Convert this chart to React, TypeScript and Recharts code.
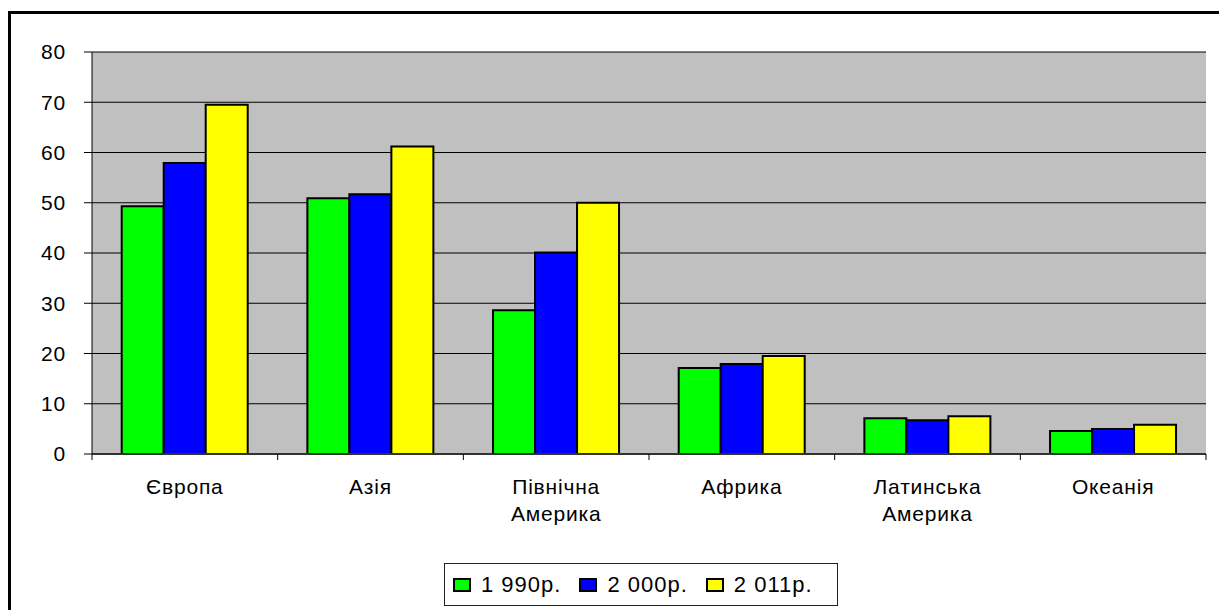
import { BarChart, Bar, XAxis, YAxis, CartesianGrid, Legend } from 'recharts'

const categories = ['Європа', 'Азія', 'Північна Америка', 'Африка', 'Латинська Америка', 'Океанія']
const values1990 = [49.3, 50.9, 28.6, 17.1, 7.1, 4.6]
const values2000 = [57.9, 51.7, 40.1, 17.9, 6.7, 5.0]
const values2011 = [69.5, 61.2, 50.0, 19.5, 7.5, 5.8]
const yTicks = [0, 10, 20, 30, 40, 50, 60, 70, 80]

const series = [
    { key: 'y1990', name: '1 990р.', color: '#00FF00' },
    { key: 'y2000', name: '2 000р.', color: '#0000FF' },
    { key: 'y2011', name: '2 011р.', color: '#FFFF00' }
]

const data = categories.map((name, i) => ({
    name,
    y1990: values1990[i],
    y2000: values2000[i],
    y2011: values2011[i]
}))

const FONT = '"Liberation Sans", Arial, sans-serif'
const W = 1219
const H = 610
const MARGIN = { top: 52, right: 13, bottom: 96, left: 32 }
const Y_AXIS_W = 60
// half of one category band, used to put x tick marks on the boundaries
const HALF_BAND = (W - MARGIN.left - Y_AXIS_W - MARGIN.right) / categories.length / 2

function CategoryTick(props: any) {
    const { x, y, payload, index } = props
    const lines = String(payload.value).split(' ')
    return (
        <g>
            <line x1={x - HALF_BAND} x2={x - HALF_BAND} y1={y} y2={y + 6} stroke="#000" />
            {index === categories.length - 1 && (
                <line x1={x + HALF_BAND} x2={x + HALF_BAND} y1={y} y2={y + 6} stroke="#000" />
            )}
            <text
                x={x}
                y={y + 40}
                textAnchor="middle"
                fontFamily={FONT}
                fontSize={21}
                letterSpacing={0.8}
                fill="#000"
            >
                {lines.map((l, i) => (
                    <tspan key={i} x={x} dy={i === 0 ? 0 : 27}>{l}</tspan>
                ))}
            </text>
        </g>
    )
}

function LegendBox() {
    return (
        <div
            style={{
                display: 'flex',
                alignItems: 'center',
                border: '1px solid #222',
                width: 384,
                height: 41,
                paddingLeft: 8,
                boxSizing: 'content-box',
                fontFamily: FONT,
                fontSize: 22,
                letterSpacing: 1,
                color: '#000',
                background: '#fff'
            }}
        >
            {series.map(s => (
                <div key={s.key} style={{ display: 'flex', alignItems: 'center', marginRight: 18 }}>
                    <span
                        style={{
                            display: 'inline-block',
                            width: 14,
                            height: 10,
                            border: '2px solid #000',
                            background: s.color,
                            marginRight: 10
                        }}
                    />
                    <span>{s.name}</span>
                </div>
            ))}
        </div>
    )
}

export default function App() {
    return (
        <div style={{ position: 'relative', width: W, height: H, background: '#fff' }}>
            <style>{'body{margin:0;overflow:hidden}'}</style>
            <div
                style={{
                    position: 'absolute',
                    left: 8,
                    top: 11,
                    width: W - 8,
                    height: H - 11,
                    borderLeft: '3px solid #000',
                    borderTop: '3px solid #000',
                    boxSizing: 'border-box'
                }}
            />
            <div style={{ position: 'absolute', left: 0, top: 0 }}>
                <BarChart
                    width={W}
                    height={H}
                    data={data}
                    margin={MARGIN}
                    barCategoryGap="16%"
                    barGap={0}
                >
                    <CartesianGrid vertical={false} stroke="#000" fill="#C0C0C0" fillOpacity={1} />
                    <XAxis
                        dataKey="name"
                        height={60}
                        tickSize={0}
                        tickMargin={0}
                        tickLine={false}
                        axisLine={{ stroke: '#333', strokeWidth: 2 }}
                        tick={<CategoryTick />}
                        interval={0}
                    />
                    <XAxis
                        xAxisId="top"
                        orientation="top"
                        dataKey="name"
                        height={0}
                        tick={false}
                        tickLine={false}
                        axisLine={{ stroke: '#808080', strokeWidth: 2 }}
                    />
                    <YAxis
                        width={Y_AXIS_W}
                        domain={[0, 80]}
                        ticks={yTicks}
                        interval={0}
                        tickSize={8}
                        tickMargin={18}
                        axisLine={{ stroke: '#000' }}
                        tickLine={{ stroke: '#000' }}
                        tick={{ fill: '#000', fontSize: 21, fontFamily: FONT, letterSpacing: 0.8 }}
                    />
                    <YAxis
                        yAxisId="right"
                        orientation="right"
                        width={0}
                        tick={false}
                        tickLine={false}
                        axisLine={{ stroke: '#808080', strokeWidth: 3 }}
                    />
                    <Legend
                        layout="horizontal"
                        verticalAlign="middle"
                        align="center"
                        content={<LegendBox />}
                        wrapperStyle={{ position: 'absolute', left: 444, top: 563, width: 'auto' }}
                    />
                    {series.map(s => (
                        <Bar
                            key={s.key}
                            dataKey={s.key}
                            name={s.name}
                            fill={s.color}
                            stroke="#000"
                            strokeWidth={2}
                            isAnimationActive={false}
                        />
                    ))}
                </BarChart>
            </div>
        </div>
    )
}
